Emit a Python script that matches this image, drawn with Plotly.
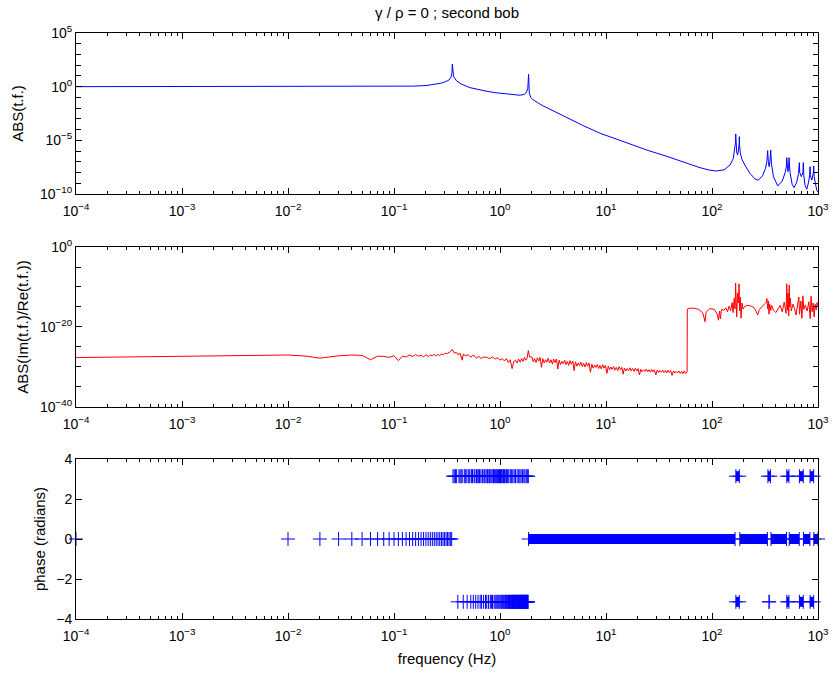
import numpy as np
import plotly.graph_objects as go

# ---------------- data ----------------
# Panel 1: |t.f.|  (values stored as log10)
abs_tf_freq = [1e-4, 0.01, 0.05, 0.1, 0.15, 0.2, 0.25, 0.28, 0.31, 0.33, 0.345, 0.352, 0.355,
               0.358, 0.365, 0.39, 0.43, 0.52, 0.62, 0.75, 0.9, 1.07, 1.3, 1.54, 1.7, 1.78,
               1.83, 1.86, 1.89, 1.95, 2.06, 2.5, 2.96, 4.0, 6.0, 8.78, 15.0, 25.0, 37.4, 62.0,
               77.0, 95.0, 110.0, 130.0, 148.0, 159.0, 164.0, 166.5, 167.4, 168.3, 171.0, 174.0,
               177.5, 180.2, 181.0, 181.8, 185.0, 192.0, 204.0, 229.0, 255.0, 273.0, 300.0, 320.0,
               330.0, 335.0, 340.0, 346.0, 352.0, 358.0, 364.0, 380.0, 418.0, 460.0, 490.0, 502.0,
               507.0, 512.0, 520.0, 528.0, 533.0, 545.0, 570.0, 594.0, 630.0, 655.0, 663.0, 667.0,
               672.0, 697.0, 720.0, 727.0, 735.0, 755.0, 783.0, 815.0, 835.0, 841.0, 848.0, 875.0,
               905.0, 911.0, 920.0, 950.0, 975.0, 1000.0]
abs_tf_log10 = [0.0, 0.0, 0.01, 0.03, 0.05, 0.1, 0.22, 0.33, 0.48, 0.62, 0.88, 1.3, 2.09,
                1.3, 0.95, 0.53, 0.25, -0.09, -0.27, -0.43, -0.56, -0.65, -0.74, -0.8, -0.72, -0.5,
                -0.15, 1.16, -0.6, -1.0, -1.24, -1.75, -2.1, -2.75, -3.6, -4.34, -5.2, -5.95, -6.49, -7.25,
                -7.55, -7.78, -7.86, -7.75, -7.3, -6.67, -5.9, -5.2, -4.41, -5.3, -6.1, -6.37,
                -6.0, -5.3, -4.66, -5.4, -6.2, -6.8, -7.3, -8.1, -8.6, -8.72, -8.3, -7.6,
                -6.9, -5.96, -7.0, -7.46, -7.0, -5.9, -7.2, -8.4, -9.25, -8.8, -8.0, -7.5,
                -6.62, -7.6, -7.92, -7.6, -6.62, -8.0, -9.1, -9.41, -8.9, -8.1, -7.7, -7.08,
                -8.0, -8.39, -8.0, -7.08, -8.3, -9.2, -9.56, -8.9, -8.2, -7.46, -8.3, -8.7,
                -8.0, -7.39, -8.4, -9.3, -9.7, -9.8]

# Panel 2: |Im(t.f.)/Re(t.f.)|  (values stored as log10)
ratio_freq = [1e-4, 0.01, 0.015, 0.02, 0.03, 0.04, 0.05, 0.06, 0.07, 0.08, 0.09, 0.1, 0.11, 0.12,
              0.13, 0.14, 0.15, 0.16, 0.17, 0.18, 0.19, 0.2, 0.21, 0.22, 0.23, 0.24, 0.25, 0.26,
              0.27, 0.28, 0.29, 0.3, 0.32, 0.34, 0.355, 0.37, 0.39, 0.4, 0.42, 0.44, 0.45, 0.48,
              0.5, 0.53, 0.55, 0.58, 0.6, 0.63, 0.66, 0.7, 0.75, 0.8, 0.85, 0.9, 0.95, 1.0, 1.05,
              1.1, 1.15, 1.2, 1.25, 1.3, 1.35, 1.4, 1.45, 1.5, 1.55, 1.6, 1.65, 1.7, 1.75, 1.8, 1.85, 1.9,
              2.00, 2.06, 2.12, 2.19, 2.25, 2.32, 2.39, 2.46, 2.53, 2.61, 2.69, 2.77,
              2.85, 2.94, 3.03, 3.12, 3.21, 3.31, 3.41, 3.51, 3.61, 3.72, 3.83, 3.95,
              4.07, 4.19, 4.32, 4.45, 4.58, 4.72, 4.86, 5.0, 5.15, 5.31, 5.47, 5.63,
              5.80, 5.97, 6.15, 6.34, 6.53, 6.72, 6.92, 7.13, 7.35, 7.57, 7.79, 8.03,
              8.27, 8.52, 8.77, 9.03, 9.3, 9.58, 9.87, 10.2, 10.5, 10.8, 11.1, 11.4,
              11.8, 12.1, 12.5, 12.9, 13.3, 13.7, 14.1, 14.5, 14.9, 15.4, 15.8, 16.3,
              16.8, 17.3, 17.8, 18.4, 18.9, 19.5, 20.1, 20.7, 21.3, 21.9, 22.6, 23.3,
              24.0, 24.7, 25.4, 26.2, 27.0, 27.8, 28.6, 29.5, 30.4, 31.3, 32.2, 33.2,
              34.2, 35.2, 36.3, 37.4, 38.5, 39.6, 40.8, 42.0, 43.3, 44.6, 45.9, 47.3,
              48.7, 50.2, 51.7, 53.2, 54.8, 56.5, 58.2, 58.5,
              62.0, 68.0, 75.0, 82.0, 86.0, 88.0, 95.0, 105.0, 112.0, 115.0, 118.0, 120.0, 123.0,
              130.0, 135.0, 140.0, 145.0, 150.0, 155.0, 158.0, 162.0, 165.0, 167.0, 169.0, 171.0,
              174.0, 177.0, 180.0, 182.0, 185.0, 188.0, 192.0, 196.0, 205.0, 215.0, 230.0, 245.0,
              260.0, 270.0, 280.0, 300.0, 318.0, 325.0, 330.0, 335.0, 340.0, 345.0, 350.0, 358.0,
              365.0, 380.0, 400.0, 420.0, 440.0, 460.0, 480.0, 500.0, 507.0, 515.0, 522.0, 530.0,
              535.0, 540.0, 548.0, 560.0, 580.0, 600.0, 620.0, 640.0, 660.0, 670.0, 690.0, 705.0,
              720.0, 735.0, 760.0, 790.0, 820.0, 845.0, 860.0, 880.0, 900.0, 920.0, 940.0, 960.0,
              980.0, 1000.0]
ratio_log10 = [-27.65, -27.0, -27.3, -27.8, -27.2, -27.0, -27.1, -28.2, -27.3, -27.35, -27.6, -27.2, -28.4, -27.3,
               -27.5, -27.0, -27.4, -26.9, -27.3, -27.1, -27.5, -26.9, -27.4, -27.0, -27.2, -26.8, -27.3, -26.8,
               -27.2, -26.7, -27.0, -26.6, -26.6, -26.2, -25.6, -26.5, -26.4, -26.9, -26.6, -28.3, -26.8, -27.2,
               -26.9, -27.6, -27.1, -27.3, -27.8, -27.3, -27.9, -27.5, -27.6, -27.9, -27.5, -28.0, -27.7, -28.3, -27.9,
               -28.5, -27.9, -28.9, -28.2, -30.4, -28.6, -28.3, -29.0, -28.0, -28.8, -27.9, -28.6, -27.6, -28.3, -27.8, -25.9, -27.5,
               -27.5, -28.7, -27.9, -28.9, -27.7, -28.5, -27.6, -30.1, -27.9, -29.0, -28.2, -28.8,
               -27.8, -29.0, -28.2, -29.3, -28.0, -28.9, -28.0, -30.5, -28.3, -29.4, -28.6, -29.2,
               -28.3, -29.4, -28.6, -29.6, -28.4, -29.3, -28.5, -30.9, -28.7, -29.8, -29.0, -29.6,
               -28.8, -29.9, -29.1, -30.0, -28.9, -29.8, -29.0, -31.3, -29.3, -30.3, -29.5, -30.1,
               -29.4, -30.4, -29.6, -30.5, -29.4, -30.3, -29.6, -31.6, -29.8, -30.7, -30.0, -30.6,
               -29.9, -30.8, -30.1, -30.9, -29.9, -30.7, -30.1, -31.8, -30.3, -31.0, -30.4, -30.9,
               -30.2, -31.0, -30.4, -31.1, -30.3, -31.0, -30.4, -32.0, -30.6, -31.2, -30.7, -31.1,
               -30.5, -31.2, -30.7, -31.3, -30.6, -31.2, -30.7, -32.0, -30.8, -31.4, -30.9, -31.3,
               -30.8, -31.4, -30.9, -31.5, -30.8, -31.4, -30.9, -32.1, -31.0, -31.5, -31.1, -31.5,
               -31.0, -31.6, -31.1, -31.7, -31.0, -31.6, -31.2, -15.5,
               -15.3, -15.3, -15.6, -16.5, -18.7, -16.3, -15.4, -15.6, -16.8, -18.3, -16.0, -18.0, -15.6,
               -15.8, -15.2, -16.2, -14.8, -15.9, -13.9, -16.4, -12.8, -15.5, -9.0, -14.5, -17.5,
               -11.5, -14.0, -9.2, -16.0, -12.5, -17.8, -14.0, -15.5, -14.8, -14.6, -14.7, -15.0,
               -16.0, -17.0, -15.6, -14.8, -14.2, -13.8, -12.9, -15.5, -13.5, -16.8, -14.2, -15.9,
               -14.6, -15.8, -16.4, -15.5, -14.6, -16.2, -13.8, -16.6, -9.2, -15.8, -11.5, -17.2,
               -9.5, -15.0, -12.8, -16.0, -14.3, -15.3, -17.0, -15.0, -12.5, -16.8, -13.5, -17.8,
               -12.2, -15.6, -14.5, -16.0, -13.7, -17.9, -12.3, -16.2, -14.0, -17.5, -14.3, -15.7,
               -13.9, -14.6]

# Panel 3: phase (radians) - individual marker frequencies
phase_zero_freqs = [1e-4, 0.01, 0.02, 0.03, 0.04, 0.05, 0.06, 0.07, 0.08, 0.09, 0.10, 0.11, 0.12,
                    0.13, 0.14, 0.15, 0.16, 0.17, 0.18, 0.19, 0.20, 0.21, 0.22, 0.23, 0.24, 0.25,
                    0.26, 0.27, 0.28, 0.29, 0.30, 0.31, 0.32, 0.33, 0.34, 0.35]
phase_pos_freqs = [0.36, 0.37, 0.38, 0.39, 0.41, 0.42, 0.43, 0.44, 0.46, 0.47, 0.48, 0.50, 0.51,
                   0.52, 0.54, 0.55, 0.57, 0.58, 0.60, 0.61, 0.63, 0.64, 0.66, 0.68, 0.69, 0.71,
                   0.72, 0.74, 0.76, 0.77, 0.79, 0.80, 0.82, 0.84, 0.86, 0.87, 0.89, 0.91, 0.93,
                   0.95, 0.97, 0.99, 1.01, 1.03, 1.05, 1.08, 1.10, 1.12, 1.15, 1.18, 1.21, 1.25,
                   1.28, 1.32, 1.36, 1.40, 1.45, 1.50, 1.54, 1.58, 1.63, 1.68, 1.72, 1.77, 1.81, 1.85]
phase_neg_freqs = [0.40, 0.45, 0.49, 0.53, 0.56, 0.59, 0.62, 0.65, 0.67, 0.70, 0.73, 0.75, 0.78,
                   0.81, 0.83, 0.85, 0.88, 0.90, 0.92, 0.94, 0.96, 0.98, 1.00, 1.02, 1.04, 1.06,
                   1.07, 1.09, 1.11, 1.13, 1.14, 1.16, 1.17, 1.19, 1.20, 1.22, 1.23, 1.24, 1.26,
                   1.27, 1.29, 1.30, 1.31, 1.33, 1.34, 1.35, 1.37, 1.38, 1.39, 1.41, 1.42, 1.43,
                   1.44, 1.46, 1.47, 1.48, 1.49, 1.51, 1.52, 1.53, 1.55, 1.56, 1.57, 1.59, 1.60,
                   1.61, 1.62, 1.64, 1.65, 1.66, 1.67, 1.69, 1.70, 1.71, 1.73, 1.74, 1.75, 1.76,
                   1.78, 1.79, 1.80, 1.82, 1.83, 1.84]
# densely sampled stretches (markers merge into solid bands): start / end frequencies
zero_band_start = [1.86, 183.0, 360.0, 535.0, 729.0, 913.0]
zero_band_end = [165.0, 333.0, 505.0, 665.0, 839.0, 1000.0]
pos_band_start = [168.0, 337.0, 508.0, 668.0, 842.0]
pos_band_end = [181.0, 356.0, 532.0, 726.0, 910.0]
neg_band_start = [168.0, 346.0, 508.0, 668.0, 842.0]
neg_band_end = [181.0, 346.0, 532.0, 726.0, 910.0]

x_tick_vals = [1e-4, 1e-3, 1e-2, 1e-1, 1e0, 1e1, 1e2, 1e3]
x_tick_text = ["10<sup>−4</sup>", "10<sup>−3</sup>", "10<sup>−2</sup>", "10<sup>−1</sup>",
               "10<sup>0</sup>", "10<sup>1</sup>", "10<sup>2</sup>", "10<sup>3</sup>"]
y1_tick_vals = [1e-10, 1e-5, 1e0, 1e5]
y1_tick_text = ["10<sup>−10</sup>", "10<sup>−5</sup>", "10<sup>0</sup>", "10<sup>5</sup>"]
y2_tick_vals = [1e-40, 1e-20, 1e0]
y2_tick_text = ["10<sup>−40</sup>", "10<sup>−20</sup>", "10<sup>0</sup>"]
y3_tick_vals = [-4, -2, 0, 2, 4]
y3_tick_text = ["−4", "−2", "0", "2", "4"]

# ---------------- figure ----------------
FONT = "Liberation Sans, Arial, Helvetica, sans-serif"
BLUE = "#0000ff"
RED = "#ff0000"
TICK_SIZE = 14
LABEL_SIZE = 15

fig = go.Figure()

fig.add_trace(go.Scatter(x=abs_tf_freq, y=np.power(10.0, abs_tf_log10), mode="lines",
                         line=dict(color=BLUE, width=1), xaxis="x", yaxis="y", showlegend=False))
fig.add_trace(go.Scatter(x=ratio_freq, y=np.power(10.0, ratio_log10), mode="lines",
                         line=dict(color=RED, width=1), xaxis="x2", yaxis="y2", showlegend=False))

mk = dict(symbol="cross-thin", size=10, color=BLUE, line=dict(width=1, color=BLUE))
for freqs, ph in [(phase_zero_freqs, 0.0), (phase_pos_freqs, np.pi), (phase_neg_freqs, -np.pi)]:
    fig.add_trace(go.Scatter(x=freqs, y=[ph] * len(freqs), mode="markers", marker=mk,
                             xaxis="x3", yaxis="y3", showlegend=False, cliponaxis=False))
for starts, ends, ph in [(zero_band_start, zero_band_end, 0.0),
                         (pos_band_start, pos_band_end, np.pi),
                         (neg_band_start, neg_band_end, -np.pi)]:
    for s, e in zip(starts, ends):
        fig.add_trace(go.Scatter(x=[s, e], y=[ph, ph], mode="lines+markers", marker=mk,
                                 line=dict(color=BLUE, width=10), xaxis="x3", yaxis="y3",
                                 showlegend=False, cliponaxis=False))

x_minor = [m * 10.0 ** d for d in range(-4, 3) for m in range(2, 10)]


def xaxis(domain_anchor, title=None):
    ax = dict(type="log", range=[-4, 3], domain=[0, 1], anchor=domain_anchor,
              tickmode="array", tickvals=x_tick_vals, ticktext=x_tick_text,
              ticks="inside", ticklen=6, tickwidth=1, tickcolor="black",
              showline=True, linecolor="black", linewidth=1, mirror="ticks",
              showgrid=False, zeroline=False, ticklabelstandoff=4, automargin=False,
              minor=dict(tickmode="array", tickvals=x_minor, ticks="inside", ticklen=3,
                         tickwidth=1, tickcolor="black", showgrid=False),
              tickfont=dict(family=FONT, size=TICK_SIZE, color="black"))
    if title:
        ax["title"] = dict(text=title, font=dict(family=FONT, size=LABEL_SIZE, color="black"),
                           standoff=10)
    return ax


def yaxis_common():
    return dict(ticks="inside", ticklen=6, tickwidth=1, tickcolor="black",
                showline=True, linecolor="black", linewidth=1, mirror="ticks",
                showgrid=False, zeroline=False, automargin=False,
                tickfont=dict(family=FONT, size=TICK_SIZE, color="black"))


y1 = yaxis_common()
y1.update(type="log", range=[-10, 5], domain=[0.7253, 1.0], anchor="x",
          tickmode="array", tickvals=y1_tick_vals, ticktext=y1_tick_text,
          minor=dict(tickmode="array", tickvals=[10.0 ** k for k in range(-9, 5) if k % 5 != 0],
                     ticks="inside", ticklen=5, tickwidth=1, tickcolor="black", showgrid=False),
          title=dict(text="ABS(t.f.)", font=dict(family=FONT, size=LABEL_SIZE, color="black"),
                     standoff=12))
y2 = yaxis_common()
y2.update(type="log", range=[-40, 0], domain=[0.3618, 0.6348], anchor="x2",
          tickmode="array", tickvals=y2_tick_vals, ticktext=y2_tick_text,
          minor=dict(tickmode="array", tickvals=[1e-35, 1e-30, 1e-25, 1e-15, 1e-10, 1e-5],
                     ticks="inside", ticklen=5, tickwidth=1, tickcolor="black", showgrid=False),
          title=dict(text="ABS(Im(t.f.)/Re(t.f.))",
                     font=dict(family=FONT, size=LABEL_SIZE, color="black"), standoff=7))
y3 = yaxis_common()
y3.update(range=[-4, 4], domain=[0.0, 0.2730], anchor="x3",
          tickmode="array", tickvals=y3_tick_vals, ticktext=y3_tick_text,
          title=dict(text="phase (radians)", font=dict(family=FONT, size=LABEL_SIZE, color="black"),
                     standoff=6))

fig.update_layout(
    width=833, height=674,
    margin=dict(l=76, r=15, t=33, b=55),
    paper_bgcolor="white", plot_bgcolor="white",
    title=dict(text="γ / ρ = 0 ; second bob", x=0.5, xref="paper", xanchor="center",
               y=1 - 13 / 674, yref="container", yanchor="middle",
               font=dict(family=FONT, size=LABEL_SIZE, color="black")),
    xaxis=xaxis("y"), xaxis2=xaxis("y2"), xaxis3=xaxis("y3", "frequency (Hz)"),
    yaxis=y1, yaxis2=y2, yaxis3=y3,
    showlegend=False,
)

fig.write_html("out.html")
